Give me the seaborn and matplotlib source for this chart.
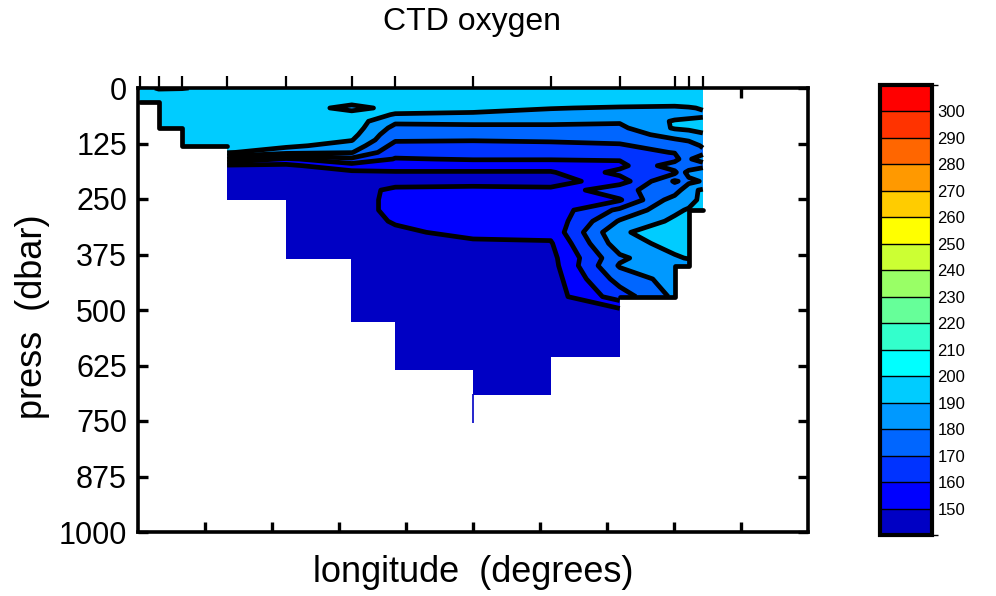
import numpy as np
import matplotlib
matplotlib.use("Agg")
import matplotlib.pyplot as plt
import seaborn as sns
from matplotlib.colors import ListedColormap, BoundaryNorm

# ---------------- data ----------------
press_levels = [0, 10, 31, 45, 60, 75, 90, 105, 117, 130, 145, 160, 175, 190, 210,
                230, 252, 275, 300, 325, 350, 383, 400, 430, 470, 500, 527, 560,
                605, 635, 690, 754]

# station positions (top ticks) on a 0..10 longitude frame
station_lon = [0.03, 0.31, 0.66, 1.33, 2.21, 3.19, 3.84, 5.00, 6.16, 7.19, 8.01, 8.22, 8.43]
station_depth = [31, 90, 130, 252, 383, 527, 635, 754, 690, 605, 470, 400, 275]

# oxygen profiles (umol/kg) at press_levels, down to each station's bottom
st01 = [196, 197, 195]
st02 = [201, 197, 196, 196, 195, 194, 192]
st03 = [200.5, 197, 196, 196, 195, 195, 195, 194, 193, 191]
st04 = [197, 196, 196, 195, 195, 195, 195, 194, 194, 193, 191, 171, 148, 146, 145, 145, 144]
st05 = [197, 197, 196, 196, 196, 195, 195, 194, 193, 192, 184, 158, 148, 147, 146, 146,
        146, 146, 145, 145, 145, 145]
st06 = [197, 197, 193, 187, 194, 195, 195, 193, 190.5, 186, 180.5, 168, 156, 148, 146, 146,
        146, 146, 145, 145, 145, 144, 144, 144, 143, 143, 143]
st07 = [197, 197, 195, 193, 189.5, 182, 177, 173, 171, 167, 163, 159.5, 156, 149, 146, 152,
        152.5, 152.5, 151, 148, 146, 145, 145, 144, 144, 143, 143, 143, 142, 142]
st08 = [197, 197, 195, 192, 189, 182, 178, 173, 170.5, 167, 163, 160.5, 156, 149, 146, 153,
        155, 155, 154, 153, 148, 146, 145, 145, 144, 144, 143, 143, 142, 142, 141, 141]
st09 = [197, 197, 194, 190.5, 186, 182, 178, 174, 171, 168, 164, 160.5, 156, 149, 146, 152,
        154, 154, 153, 153, 149, 147, 146, 145, 145, 144, 144, 143, 143, 142, 142]
st10 = [197, 197, 195, 189, 185, 181, 178, 175, 172, 169, 166, 161, 157, 163, 155, 168,
        159, 172, 181, 189, 186, 178, 181, 174, 165, 148, 146, 145, 144]
st11 = [197, 197, 195, 188, 186, 191, 191, 184, 179, 174, 170.5, 166, 176, 168, 181, 174,
        185, 188, 192, 194, 193, 189, 186, 184, 182]
st12 = [197, 197, 196, 189, 187, 192, 192, 186, 181, 176, 172, 179, 171, 184, 177, 188,
        186, 191, 193, 195, 194, 190.5, 186]
st13 = [197, 197, 196, 191, 188, 193, 193, 189, 185, 181, 178, 184, 176, 189, 181, 191,
        193, 192]

oxygen_levels = list(range(140, 311, 10))
cbar_ticks = list(range(150, 301, 10))
band_colors = ['#0000C4', '#0000FF', '#0033FF', '#0066FF', '#0099FF', '#00CCFF',
               '#00FFFF', '#33FFCC', '#66FF99', '#99FF66', '#CCFF33', '#FFFF00',
               '#FFCC00', '#FF9900', '#FF6600', '#FF3300', '#FF0000']
press_ticks = list(range(0, 1001, 125))
lon_ticks = [1, 2, 3, 4, 5, 6, 7, 8, 9]
# station groups whose bottom edge carries a drawn contour outline
outlined_groups = [(0, 3), (9, 12)]

# ---------------- build the section grid ----------------
profiles = [st01, st02, st03, st04, st05, st06, st07, st08, st09, st10, st11, st12, st13]
P = np.array(press_levels, float)
X = np.array(station_lon, float)
Z = np.full((len(P), len(X)), np.nan)
for j, prof in enumerate(profiles):
    Z[:len(prof), j] = prof
Zm = np.ma.masked_invalid(Z)
col_bottom = [min(station_depth[j], station_depth[j + 1]) for j in range(len(X) - 1)]

# ---------------- style ----------------
sns.set_theme(style="white")
plt.rcParams['font.family'] = ['Liberation Sans', 'DejaVu Sans']
plt.rcParams.update({'text.color': 'black', 'axes.labelcolor': 'black',
                     'xtick.color': 'black', 'ytick.color': 'black'})

fig = plt.figure(figsize=(9.96, 5.96), dpi=100)
ax = fig.add_axes([138 / 996, 1 - 532 / 596, 670 / 996, 444 / 596])
cax = fig.add_axes([880 / 996, 1 - 535 / 596, 52 / 996, 450 / 596])

cmap = ListedColormap(band_colors)
norm = BoundaryNorm(oxygen_levels, cmap.N)

cf = ax.contourf(X, P, Zm, levels=oxygen_levels, cmap=cmap, norm=norm, corner_mask=False)
ax.contour(X, P, Zm, levels=oxygen_levels, colors='black', linewidths=3.4,
           corner_mask=False)

# bottom outline of the shallow western and eastern casts
for a, b in outlined_groups:
    xs, ys = [], []
    for j in range(a, b):
        xs += [X[j], X[j + 1]]
        ys += [col_bottom[j], col_bottom[j]]
    ax.plot(xs, ys, color='black', lw=3.4, solid_joinstyle='round')

# deepest cast shown as a thin line below the neighbouring casts
k = int(np.argmax(station_depth))
ax.vlines(station_lon[k], sorted(station_depth)[-2], station_depth[k],
          color=band_colors[0], lw=1.2)

ax.set_xlim(0, 10)
ax.set_ylim(1000, 0)
ax.set_yticks(press_ticks)
ax.set_xticks(lon_ticks)
ax.set_xticklabels([])
ax.tick_params(axis='both', direction='in', top=True, right=True, bottom=True, left=True,
               labeltop=False, labelright=False, length=7, width=2.4,
               labelsize=22, pad=8, colors='black')
for sp in ax.spines.values():
    sp.set_linewidth(2.6)
    sp.set_color('black')

sec = ax.secondary_xaxis('top')
sec.set_xticks(station_lon)
sec.set_xticklabels([])
sec.tick_params(direction='out', length=9, width=1.6, colors='black', top=True)

ax.set_xlabel('longitude  (degrees)', fontsize=26, va='center')
ax.xaxis.set_label_coords(0.5, -0.092)
ax.set_ylabel('press  (dbar)', fontsize=26, va='center')
ax.yaxis.set_label_coords(-0.157, 0.484)

fig.text(0.474, 0.963, 'CTD oxygen', ha='center', va='center', fontsize=23)

cb = fig.colorbar(cf, cax=cax, ticks=cbar_ticks, drawedges=True)
cb.outline.set_linewidth(3)
cb.outline.set_edgecolor('black')
cb.dividers.set_color('black')
cb.dividers.set_linewidth(1)
cax.tick_params(direction='in', length=3, width=1.5, left=True, right=True,
                labelsize=12, pad=4, colors='black')

fig.savefig('out.png', dpi=100, facecolor='white')
